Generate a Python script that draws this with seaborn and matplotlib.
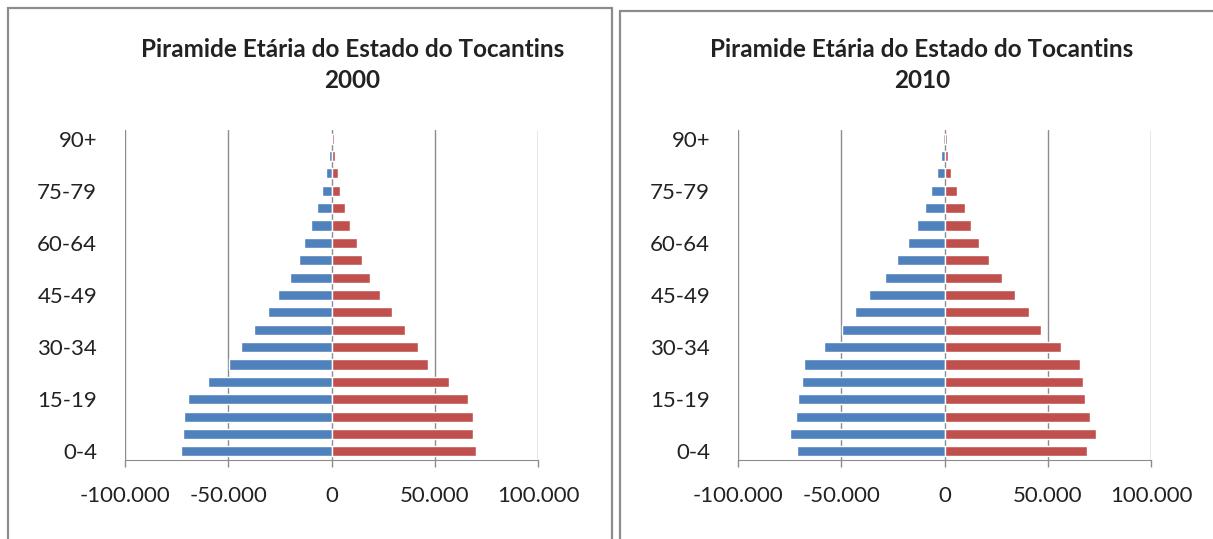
import pandas as pd
import seaborn as sns
import matplotlib.pyplot as plt
from matplotlib.patches import Rectangle

# age groups, bottom to top
ages = ["0-4", "5-9", "10-14", "15-19", "20-24", "25-29", "30-34", "35-39",
        "40-44", "45-49", "50-54", "55-59", "60-64", "65-69", "70-74",
        "75-79", "80-84", "85-89", "90+"]

# 2000 census, men (left, blue) and women (right, red)
homens_2000 = [72800, 72000, 71500, 69600, 59600, 49800, 43800, 37700, 30800,
               25800, 20100, 15900, 13200, 10100, 7100, 4500, 2600, 1400, 300]
mulheres_2000 = [70000, 68600, 68600, 66000, 56800, 46900, 41700, 35400, 29100,
                 23700, 18500, 14800, 12200, 9200, 6600, 4000, 3100, 1800, 1100]

# 2010 census
homens_2010 = [71500, 74800, 72000, 70900, 69100, 67800, 58300, 49700, 43400,
               36400, 28800, 23100, 17500, 13300, 9500, 6500, 3400, 1500, 800]
mulheres_2010 = [69100, 73600, 70400, 68000, 67200, 65500, 56600, 46600, 40900,
                 34300, 27800, 21700, 16700, 12800, 9900, 6000, 3200, 1600, 1100]

years = ["2000", "2010"]
xticks = [-100000, -50000, 0, 50000, 100000]
xtick_labels = ["-100.000", "-50.000", "0", "50.000", "100.000"]
shown_ages = ["0-4", "15-19", "30-34", "45-49", "60-64", "75-79", "90+"]

sns.set_style("white")
plt.rcParams["font.family"] = ["Lato", "DejaVu Sans"]

fig = plt.figure(figsize=(12.13, 5.39), dpi=100)

# chart frames like the Excel chart boxes
fig.patches.append(Rectangle((8 / 1213, -0.1), 604 / 1213, 1.1 - 8 / 539,
                             transform=fig.transFigure, fill=False,
                             edgecolor="#8c8c8c", linewidth=1.6))
fig.patches.append(Rectangle((620 / 1213, -0.1), 0.6, 1.1 - 11 / 539,
                             transform=fig.transFigure, fill=False,
                             edgecolor="#8c8c8c", linewidth=1.6))

# (men, women, axes left edge in px, title centre in axes fraction)
panels = [(homens_2000, mulheres_2000, 125, 0.55),
          (homens_2010, mulheres_2010, 738, 0.445)]

for (homens, mulheres, left_px, title_x), year in zip(panels, years):
    ax = fig.add_axes([left_px / 1213, 79 / 539, 413 / 1213, 330 / 539])
    df = pd.DataFrame({
        "idade": ages * 2,
        "sexo": ["Homens"] * len(ages) + ["Mulheres"] * len(ages),
        "pop": [-v for v in homens] + mulheres,
    })
    sns.barplot(data=df, x="pop", y="idade", hue="sexo", order=ages[::-1],
                orient="h", dodge=False, width=0.58, legend=False,
                saturation=1,
                palette={"Homens": "#4f81bd", "Mulheres": "#c0504d"}, ax=ax)
    ax.set_xlim(-100000, 100000)
    ax.set_ylim(len(ages) - 0.5, -0.5)
    ax.set_xticks(xticks)
    ax.set_xticklabels(xtick_labels, fontsize=16, color="#222222")
    ax.set_yticklabels([a if a in shown_ages else "" for a in ages[::-1]],
                       fontsize=16, color="#222222")
    ax.tick_params(axis="y", length=0, pad=20)
    ax.tick_params(axis="x", length=5, width=1, color="#8c8c8c",
                   direction="out", pad=14, bottom=True)
    for x in xticks:
        ax.axvline(x, color="#8c8c8c", linewidth=1, zorder=0)
    for s in ["top", "right", "left"]:
        ax.spines[s].set_visible(False)
    ax.spines["bottom"].set_color("#8c8c8c")
    ax.set_xlabel("")
    ax.set_ylabel("")
    ax.set_title("Piramide Etária do Estado do Tocantins\n" + year,
                 fontsize=17.5, fontweight="bold", color="#222222",
                 x=title_x, pad=30, linespacing=1.45)

fig.savefig("out.png", dpi=100)
